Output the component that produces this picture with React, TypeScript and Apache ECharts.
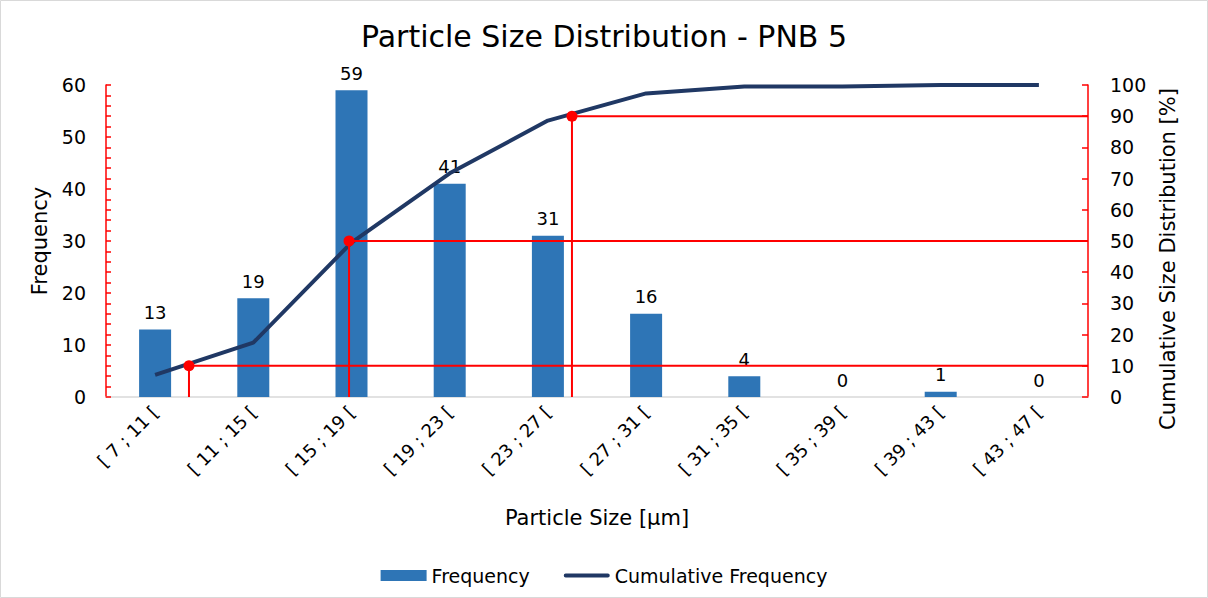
import React, { useEffect, useRef } from "react";
import * as echarts from "echarts";

const categories = [
  "[ 7 ; 11 [", "[ 11 ; 15 [", "[ 15 ; 19 [", "[ 19 ; 23 [", "[ 23 ; 27 [",
  "[ 27 ; 31 [", "[ 31 ; 35 [", "[ 35 ; 39 [", "[ 39 ; 43 [", "[ 43 ; 47 [",
];
const frequency = [13, 19, 59, 41, 31, 16, 4, 0, 1, 0];
const cumulative = [7.1, 17.4, 49.5, 71.7, 88.6, 97.3, 99.5, 99.5, 100, 100];
// D10 / D50 / D90 markers: [position on category scale (0..10), percentage]
const dMarkers = [
  [0.845, 10],
  [2.475, 50],
  [4.745, 90],
];

const FONT = "DejaVu Sans";

export default function App() {
  const ref = useRef<HTMLDivElement>(null);
  useEffect(() => {
    if (!ref.current) return;
    const chart = echarts.init(ref.current, undefined, { renderer: "svg" });
    const markerSeries = dMarkers.map((m, i) => ({
      type: "line",
      name: "D" + i,
      xAxisIndex: 1,
      yAxisIndex: 1,
      data: [
        [m[0], 0],
        [m[0], m[1]],
        [10, m[1]],
      ],
      symbol: "circle",
      showSymbol: true,
      symbolSize: (_v: any, p: any) => (p.dataIndex === 1 ? 11 : 0),
      lineStyle: { color: "#ff0000", width: 2 },
      itemStyle: { color: "#ff0000" },
      z: 5,
      silent: true,
    }));
    chart.setOption({
      animation: false,
      textStyle: { fontFamily: FONT },
      title: {
        text: "Particle Size Distribution - PNB 5",
        left: "center",
        top: 16,
        textStyle: { fontFamily: FONT, fontSize: 30, fontWeight: "normal", color: "#000" },
      },
      graphic: [
        {
          type: "rect",
          shape: { x: 0.5, y: 0.5, width: 1207, height: 597 },
          style: { fill: "none", stroke: "#d9d9d9", lineWidth: 1 },
          silent: true,
        },
      ],
      legend: {
        data: [
          { name: "Frequency", icon: "rect" },
          { name: "Cumulative Frequency", icon: "path://M2,0 H46 A2,2 0 0 1 46,4 H2 A2,2 0 0 1 2,0 Z" },
        ],
        bottom: 8,
        left: "center",
        itemWidth: 46,
        itemHeight: 11,
        itemGap: 34,
        itemStyle: { borderWidth: 0 },
        textStyle: { fontFamily: FONT, fontSize: 19, color: "#000" },
      },
      grid: { left: 106, right: 120, top: 85, bottom: 201 },
      xAxis: [
        {
          type: "category",
          data: categories,
          name: "Particle Size [μm]",
          nameLocation: "middle",
          nameGap: 110,
          nameTextStyle: { fontFamily: FONT, fontSize: 21, color: "#000" },
          axisLine: { lineStyle: { color: "#d9d9d9", width: 1.5 } },
          axisTick: { show: false },
          axisLabel: { rotate: 45, fontSize: 18, color: "#000", margin: 12, fontFamily: FONT },
        },
        { type: "value", min: 0, max: 10, show: false },
      ],
      yAxis: [
        {
          type: "value",
          min: 0,
          max: 60,
          interval: 2,
          name: "Frequency",
          nameLocation: "middle",
          nameGap: 46,
          nameTextStyle: { fontFamily: FONT, fontSize: 21, color: "#000" },
          axisLine: { show: true, lineStyle: { color: "#ff0000", width: 1.5 } },
          axisTick: { show: true, inside: true, length: 5, lineStyle: { color: "#ff0000", width: 1.5 } },
          axisLabel: {
            fontSize: 19,
            color: "#000",
            margin: 20,
            fontFamily: FONT,
            formatter: (v: number) => (v % 10 === 0 ? String(v) : ""),
          },
          splitLine: { show: false },
        },
        {
          type: "value",
          min: 0,
          max: 100,
          interval: 10,
          position: "right",
          name: "Cumulative Size Distribution [%]",
          nameLocation: "middle",
          nameRotate: 90,
          nameGap: 68,
          nameTextStyle: { fontFamily: FONT, fontSize: 21, color: "#000", padding: [0, 36, 0, 0] },
          axisLine: { show: true, lineStyle: { color: "#ff0000", width: 1.5 } },
          axisTick: { show: true, inside: true, length: 6, lineStyle: { color: "#ff0000", width: 1.5 } },
          axisLabel: { fontSize: 19, color: "#000", margin: 22, fontFamily: FONT },
          splitLine: { show: false },
        },
      ],
      series: [
        {
          type: "bar",
          name: "Frequency",
          data: frequency,
          barWidth: 32,
          itemStyle: { color: "#2e75b6" },
          label: { show: true, position: "top", distance: 8, fontSize: 18, color: "#000", fontFamily: FONT },
          z: 2,
        },
        {
          type: "line",
          name: "Cumulative Frequency",
          yAxisIndex: 1,
          data: cumulative,
          symbol: "none",
          lineStyle: { color: "#203864", width: 4 },
          itemStyle: { color: "#203864" },
          z: 4,
        },
        ...markerSeries,
      ],
    });
    return () => chart.dispose();
  }, []);
  return (
    <div
      ref={ref}
      style={{ position: "fixed", left: 0, top: 0, width: 1208, height: 598, background: "#fff" }}
    />
  );
}
